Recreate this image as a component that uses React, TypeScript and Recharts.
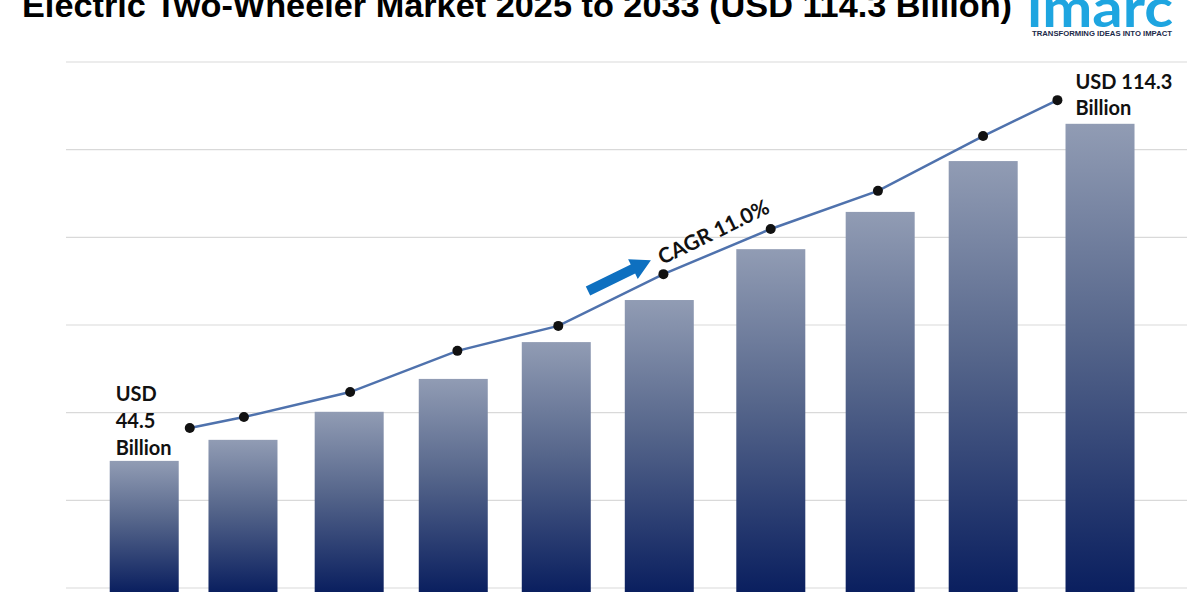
import { ComposedChart, Bar, Line, XAxis, YAxis, CartesianGrid } from 'recharts';

// years shown as bars (2024 base year through 2033 forecast)
const years = ['2024', '2025', '2026', '2027', '2028', '2029', '2030', '2031', '2032', '2033'];
// bar heights (chart units, 0-120)
const barValues = [29.0, 33.8, 40.2, 47.7, 56.1, 65.7, 77.3, 85.8, 97.4, 105.9];
// where each bar sits along the axis (the picture spaces them a little unevenly)
const barPos = [0, 0.93, 1.93, 2.91, 3.88, 4.85, 5.9, 6.93, 7.9, 9.0];
// trend line values and their positions along the same axis
const lineValues = [36.5, 39.0, 44.7, 54.1, 59.8, 71.6, 81.9, 90.6, 103.1, 111.3];
const linePos = [0.43, 0.94, 1.94, 2.95, 3.9, 4.89, 5.9, 6.91, 7.9, 8.6];
const gridTicks = [0, 20, 40, 60, 80, 100, 120];

const marketStart = 44.5;
const marketEnd = 114.3;
const cagr = 11.0;
const title = 'Electric Two-Wheeler Market 2025 to 2033 (USD 114.3 Billion)';

const data = years.map((year, i) => ({
    year,
    bar: barValues[i],
    barPos: barPos[i],
    trend: lineValues[i],
    linePos: linePos[i],
}));

const labelFont = { fontFamily: 'Lato, sans-serif', fontWeight: 700, fontSize: 20, fill: '#111' };
const xPadding = { left: 25, right: 34 };

function BarShape(props: any) {
    const { x, y, width, height } = props;
    return <rect x={x} y={y} width={width} height={height + 4} fill="url(#barGrad)" />;
}

function EndLabel(props: any) {
    const { x, y, index } = props;
    if (index === 0) {
        return (
            <g>
                {['USD', `${marketStart}`, 'Billion'].map((t, k) => (
                    <text key={k} x={x - 74} y={y - 35 + k * 27} dominantBaseline="central" {...labelFont}>
                        {t}
                    </text>
                ))}
            </g>
        );
    }
    if (index === years.length - 1) {
        return (
            <g>
                {[`USD ${marketEnd}`, 'Billion'].map((t, k) => (
                    <text key={k} x={x + 18} y={y - 19 + k * 26} dominantBaseline="central" {...labelFont}>
                        {t}
                    </text>
                ))}
            </g>
        );
    }
    return null;
}

export default function App() {
    return (
        <div style={{ position: 'absolute', left: 0, top: 0, width: 1200, height: 600, background: '#fff', overflow: 'hidden' }}>
            <div style={{ position: 'absolute', left: 0, top: 0 }}>
                <ComposedChart width={1200} height={600} data={data} margin={{ top: 62, right: 13, bottom: 12, left: 66 }}>
                    <defs>
                        <linearGradient id="barGrad" x1="0" y1="0" x2="0" y2="1">
                            <stop offset="0%" stopColor="#919cb4" />
                            <stop offset="45%" stopColor="#56668b" />
                            <stop offset="100%" stopColor="#0a1f5f" />
                        </linearGradient>
                    </defs>
                    <CartesianGrid vertical={false} stroke="#d9d9d9" strokeWidth={1.2} />
                    <XAxis dataKey="barPos" type="number" domain={[-0.5, 9.5]} allowDataOverflow hide padding={xPadding} />
                    <XAxis
                        xAxisId="line"
                        dataKey="linePos"
                        type="number"
                        domain={[-0.5, 9.5]}
                        allowDataOverflow
                        hide
                        padding={xPadding}
                    />
                    <YAxis hide domain={[0, 120]} ticks={gridTicks} />
                    <Bar dataKey="bar" barSize={69} shape={<BarShape />} isAnimationActive={false} />
                    <Line
                        xAxisId="line"
                        dataKey="trend"
                        type="linear"
                        stroke="#4f72ad"
                        strokeWidth={2.5}
                        dot={{ r: 5, fill: '#111', stroke: '#111', strokeWidth: 0 }}
                        label={<EndLabel />}
                        isAnimationActive={false}
                    />
                </ComposedChart>
            </div>
            <svg width={1200} height={600} style={{ position: 'absolute', left: 0, top: 0, pointerEvents: 'none' }}>
                <text x={22} y={17} fontFamily="'Liberation Sans', Arial, sans-serif" fontWeight={700} fontSize={34} fill="#000" textLength={990} lengthAdjust="spacingAndGlyphs">
                    {title}
                </text>
                <text x={1027} y={27} fontFamily="Lato, sans-serif" fontWeight={700} fontSize={54} fill="#1ea5e0" textLength={146} lengthAdjust="spacingAndGlyphs">
                    imarc
                </text>
                <text x={1032} y={36} fontFamily="'Liberation Sans', Arial, sans-serif" fontWeight={700} fontSize={7} fill="#1c2a4a" textLength={140} lengthAdjust="spacingAndGlyphs">
                    TRANSFORMING IDEAS INTO IMPACT
                </text>
                <g transform="translate(588,291) rotate(-26)">
                    <polygon points="0,-5 50,-5 50,-11 70,0 50,11 50,5 0,5" fill="#0e70c0" />
                </g>
                <text
                    transform="translate(713,231) rotate(-26)"
                    textAnchor="middle"
                    dominantBaseline="central"
                    fontFamily="Lato, sans-serif"
                    fontWeight={700}
                    fontSize={21}
                    fill="#111"
                >
                    {`CAGR ${cagr.toFixed(1)}%`}
                </text>
            </svg>
        </div>
    );
}
